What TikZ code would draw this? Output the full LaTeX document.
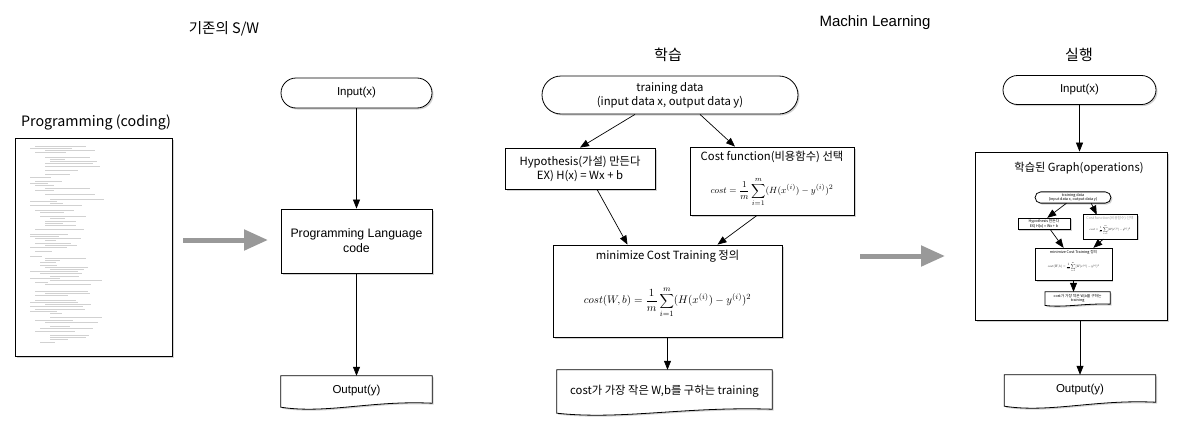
\documentclass[tikz,border=0pt]{standalone}
\usepackage{fontspec}
\setmainfont{Liberation Sans}
\newfontfamily\kr{Noto Sans CJK KR}
\usetikzlibrary{shapes.misc,shadows,arrows.meta}
\newcommand\docoutline[2]{%
  \path[docline] (#1.north west) -- (#1.north east) -- ([yshift=3pt]#1.south east)
    .. controls ([xshift=0.1*#2,yshift=6pt]#1.south) and ([xshift=-0.2*#2,yshift=-8pt]#1.south)
    .. ([yshift=-1pt]#1.south west) -- cycle;}
\newcommand\costformula{\(\displaystyle cost = \frac{1}{m}\sum_{i=1}^{m}(H(x^{(i)}) - y^{(i)})^2\)}
\newcommand\costwbformula{\(\displaystyle cost(W,b) = \frac{1}{m}\sum_{i=1}^{m}(H(x^{(i)}) - y^{(i)})^2\)}
\begin{document}
\begin{tikzpicture}[x=1pt,y=-1pt,
  shd/.style={drop shadow={shadow xshift=1.5pt,shadow yshift=-1.5pt,opacity=0.35}},
  term/.style={rounded rectangle, draw, fill=white, line width=0.8pt, shd, inner sep=0pt},
  box/.style={rectangle, draw, fill=white, line width=0.8pt, shd, inner sep=0pt, align=center},
  docn/.style={rectangle, inner sep=0pt},
  docline/.style={draw, fill=white, line width=0.8pt, shd},
  arr/.style={-{Triangle[length=9pt,width=7pt]}, line width=0.7pt},
  bigarrow/.style={-{Triangle[length=24pt,width=20pt]}, line width=5pt, draw=black!40},
  codeline/.style={draw=black!18, line width=0.4pt},
  krtext/.style={font=\kr\fontsize{11.3}{14}\selectfont, inner sep=0pt, align=center},
  iotext/.style={font=\fontsize{11.5}{14}\selectfont},
  mathtext/.style={inner sep=0pt},
  title/.style={inner sep=0pt}]
\useasboundingbox (0,0) rectangle (1198,439);
\fill[white] (0,0) rectangle (1198,439);

% ---------- left: conventional S/W ----------
\node[title, font=\kr\fontsize{14.5}{17}\selectfont] (t1) at (224,29) {기존의 S/W};
\node[title, font=\kr\fontsize{14.3}{17}\selectfont] (t2) at (96,122) {Programming (coding)};
\node[box, minimum width=157pt, minimum height=218pt] (page) at (93.5,247) {};
\pgfmathsetseed{11}
\foreach \i in {0,...,89}{
  \pgfmathsetmacro\yy{146+\i*2.2}
  \pgfmathtruncatemacro\ind{30+5*random(0,4)}
  \pgfmathtruncatemacro\len{10+random(0,45)}
  \pgfmathtruncatemacro\sk{random(0,4)}
  \ifnum\sk>0 \draw[codeline] (\ind,\yy) -- ++(\len,0); \fi
}
\coordinate (ga1) at (183,240);
\coordinate (ga2) at (268,240);
\draw[bigarrow] (ga1) -- (ga2);

\node[term, iotext, minimum width=151pt, minimum height=30pt] (in1) at (356.5,93) {Input(x)};
\node[box, minimum width=151pt, minimum height=64pt, font=\fontsize{12.3}{15}\selectfont] (plc) at (356.5,241) {Programming Language\\code};
\node[docn, minimum width=151pt, minimum height=30pt] (out1) at (356.5,391) {};
\docoutline{out1}{151pt}
\node[iotext] (out1t) at (out1) {Output(y)};
\draw[arr] (in1.south) -- (plc.north);
\draw[arr] (plc.south) -- (out1.north);

% ---------- middle: learning ----------
\node[title, font=\fontsize{15}{18}\selectfont] (t3) at (875,23) {Machin Learning};
\node[title, font=\kr\fontsize{15}{18}\selectfont] (t4) at (668,55) {학습};
\begin{scope}[shift={(670,95)}]
  \node[term, krtext, minimum width=256pt, minimum height=38pt] (td) at (0,0) {training data\\(input data x, output data y)};
  \node[box, krtext, minimum width=150pt, minimum height=41pt] (hyp) at (-90,73.5) {Hypothesis(가설) 만든다\\EX) H(x) = Wx + b};
  \node[box, minimum width=164pt, minimum height=68pt] (cf) at (102,86) {};
  \node[krtext] (cft) at ([yshift=-10pt]cf.north) {Cost function(비용함수) 선택};
  \node[mathtext, font=\fontsize{9.5}{11}\selectfont] (cff) at ([yshift=-11pt]cf.center) {\costformula};
  \node[box, minimum width=229pt, minimum height=92pt] (mn) at (-2.5,196) {};
  \node[krtext] (mnt) at ([yshift=-12pt]mn.north) {minimize Cost Training 정의};
  \node[mathtext, font=\fontsize{11}{13}\selectfont] (mnf) at ([yshift=-11pt]mn.center) {\costwbformula};
  \node[docn, minimum width=215pt, minimum height=42pt] (cd) at (-5.5,296) {};
  \docoutline{cd}{215pt}
  \node[krtext] (cdt) at (cd) {cost가 가장 작은 W,b를 구하는 training};
  \draw[arr] ([xshift=-35pt]td.south) -- (hyp.north);
  \draw[arr] ([xshift=30pt]td.south) -- ([xshift=-37pt]cf.north);
  \draw[arr] ([xshift=17pt]hyp.south) -- ([xshift=-40pt]mn.north);
  \draw[arr] ([xshift=-15pt]cf.south) -- ([xshift=50pt]mn.north);
  \draw[arr] (mn.south) -- (mn.south |- cd.north);
\end{scope}

% ---------- right: execution ----------
\coordinate (gb1) at (860,256);
\coordinate (gb2) at (945,256);
\draw[bigarrow] (gb1) -- (gb2);
\node[title, font=\kr\fontsize{15}{18}\selectfont] (t5) at (1079,55) {실행};
\node[term, iotext, minimum width=153pt, minimum height=29pt] (in2) at (1079.5,90) {Input(x)};
\node[box, minimum width=192pt, minimum height=168pt] (gr) at (1071,236) {};
\node[title, font=\kr\fontsize{11.2}{14}\selectfont] (grt) at (1079,168) {학습된 Graph(operations)};
\begin{scope}[shift={(1073,197.5)}, scale=0.33, transform shape]
  \node[term, krtext, minimum width=230pt, minimum height=34pt] (std) at (0,0) {training data\\(input data x, output data y)};
  \node[box, krtext, minimum width=158pt, minimum height=36pt] (shyp) at (-88,80) {Hypothesis 만든다\\EX) H(x) = Wx + b};
  \node[box, minimum width=164pt, minimum height=73pt] (scf) at (112,89) {};
  \node[krtext, text=black!35] (scft) at ([yshift=-10pt]scf.north) {Cost function(비용함수) 선택};
  \node[mathtext, font=\fontsize{9.5}{11}\selectfont] (scff) at ([yshift=-10pt]scf.center) {\costformula};
  \node[box, minimum width=233pt, minimum height=97pt] (smn) at (1.5,201.5) {};
  \node[krtext] (smnt) at ([yshift=-14pt]smn.north) {minimize Cost Training 정의};
  \node[mathtext] (smnf) at ([yshift=-9pt]smn.center) {\costwbformula};
  \node[docn, minimum width=197pt, minimum height=40pt] (scd) at (14,306) {};
  \docoutline{scd}{197pt}
  \node[krtext] (scdt) at (scd) {cost가 가장 작은 W,b를 구하는\\training};
  \draw[arr] ([xshift=-20pt]std.south) -- ([xshift=10pt]shyp.north);
  \draw[arr] ([xshift=55pt]std.south) -- ([xshift=-40pt]scf.north);
  \draw[arr] ([xshift=20pt]shyp.south) -- ([xshift=-30pt]smn.north);
  \draw[arr] ([xshift=-20pt]scf.south) -- ([xshift=60pt]smn.north);
  \draw[arr] (smn.south) -- (smn.south |- scd.north);
\end{scope}
\node[docn, minimum width=151pt, minimum height=30pt] (out2) at (1080,390) {};
\docoutline{out2}{151pt}
\node[iotext] (out2t) at (out2) {Output(y)};
\draw[arr] (in2.south) -- (in2.south |- gr.north);
\draw[arr] (out2.north |- gr.south) -- (out2.north);
\end{tikzpicture}
\end{document}
